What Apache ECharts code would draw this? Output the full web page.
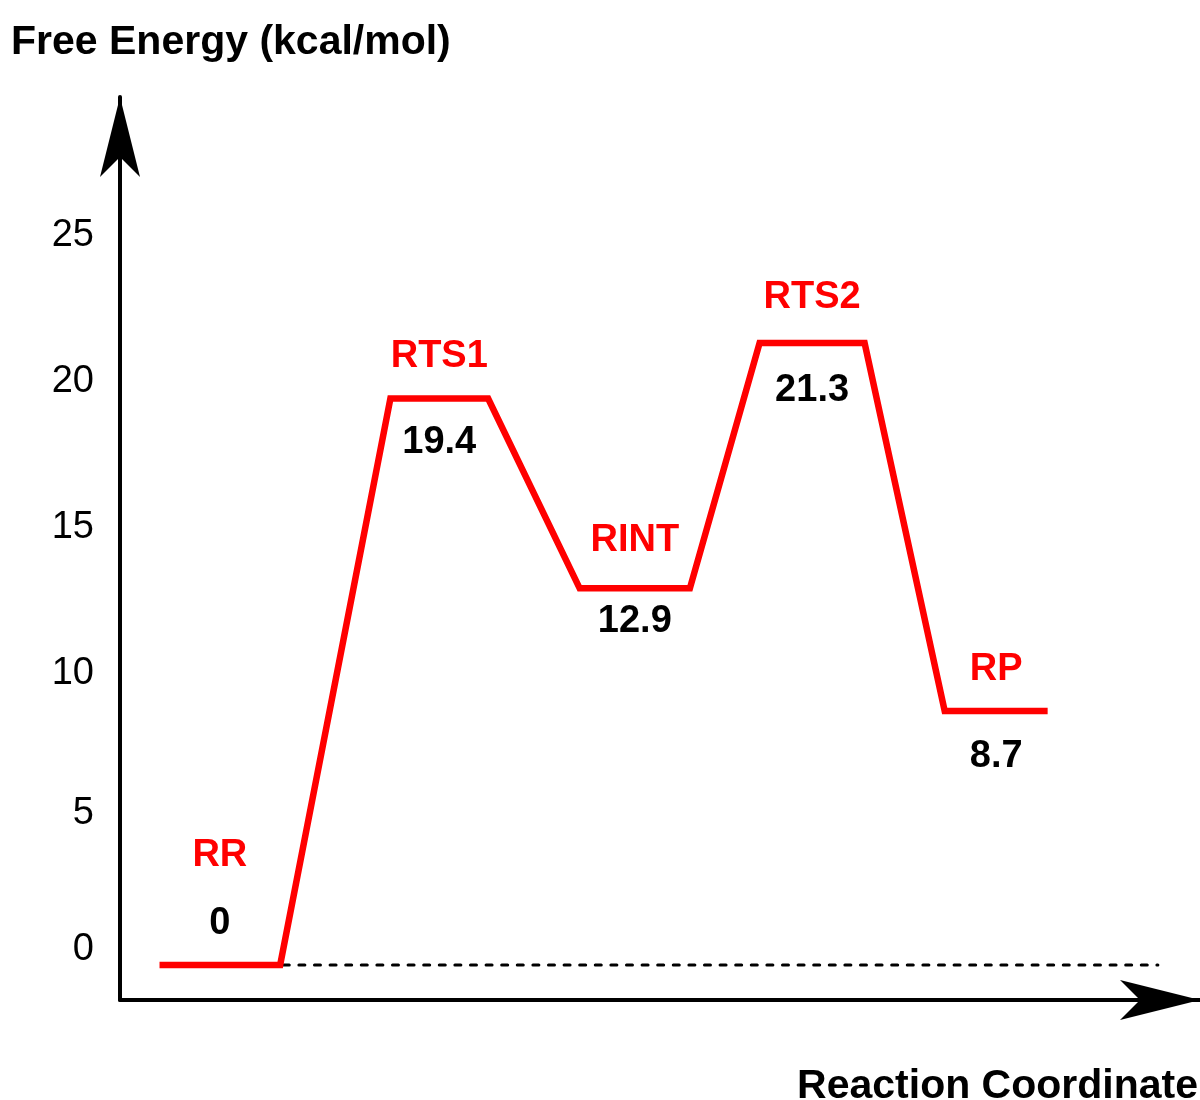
<!DOCTYPE html>
<html>
<head>
<meta charset="utf-8">
<title>Free Energy Profile</title>
<script src="https://cdn.jsdelivr.net/npm/echarts@6/dist/echarts.min.js"></script>
<style>
  html, body { margin: 0; padding: 0; background: #fff; }
  #chart { width: 1200px; height: 1100px; }
</style>
</head>
<body>
<div id="chart"></div>
<script>
// stationary points along the reaction path
const stages = ['RR', 'RTS1', 'RINT', 'RTS2', 'RP']
const energies = [0, 19.4, 12.9, 21.3, 8.7]
// reaction coordinate where each level starts / ends
const levelStart = [3.8, 26, 44.2, 61.5, 79.3]
const levelEnd = [15.4, 35.4, 54.8, 71.6, 89.2]
const yTicks = [0, 5, 10, 15, 20, 25]
const baselineRange = [8.2, 99.8]

const FONT = "'Liberation Sans', Arial, Helvetica, sans-serif"
const RED = '#ff0000'

// label offsets (name above, value below), RR is drawn with both above
const nameDy = [-109, -42, -48, -46, -41]
const valueDy = [-41, 44, 33, 47, 46]

const profile = []
stages.forEach((s, i) => {
  profile.push([levelStart[i], energies[i]])
  profile.push([levelEnd[i], energies[i]])
})

const mids = stages.map((s, i) => (levelStart[i] + levelEnd[i]) / 2)

const chart = echarts.init(document.getElementById('chart'))

chart.setOption({
  animation: false,
  backgroundColor: '#fff',
  title: [
    {
      text: 'Free Energy (kcal/mol)',
      left: 11, top: 22, padding: 0,
      textStyle: { fontFamily: FONT, fontSize: 41, fontWeight: 'bold', color: '#000' }
    },
    {
      text: 'Reaction Coordinate',
      right: 2, top: 1066, padding: 0,
      textStyle: { fontFamily: FONT, fontSize: 41, fontWeight: 'bold', color: '#000' }
    }
  ],
  grid: { left: 120, right: 0, top: 97, bottom: 100, containLabel: false },
  xAxis: {
    type: 'value',
    min: 0,
    max: 103.85,
    axisLine: {
      onZero: false,
      symbol: ['none', 'arrow'],
      symbolSize: [30, 80],
      lineStyle: { color: '#000', width: 4 }
    },
    axisTick: { show: false },
    axisLabel: { show: false },
    splitLine: { show: false }
  },
  yAxis: {
    type: 'value',
    min: -1.2,
    max: 29.73,
    axisLine: {
      show: true,
      onZero: false,
      symbol: ['none', 'arrow'],
      symbolSize: [30, 80],
      lineStyle: { color: '#000', width: 4 }
    },
    axisTick: { show: false },
    splitLine: { show: false },
    axisLabel: {
      customValues: yTicks,
      margin: 26,
      fontFamily: FONT,
      fontSize: 38,
      color: '#000',
      formatter: v => v === 0 ? '{lo|0}' : (v === 5 ? '{mid|5}' : String(v)),
      rich: {
        lo: { fontFamily: FONT, fontSize: 38, color: '#000', padding: [0, 0, 30, 0] },
        mid: { fontFamily: FONT, fontSize: 38, color: '#000', padding: [0, 0, 10, 0] }
      }
    }
  },
  series: [
    {
      type: 'line',
      data: baselineRange.map(x => [x, 0]),
      symbol: 'none',
      z: 1,
      lineStyle: { color: '#000', width: 3, type: [6, 9.6], cap: 'round' }
    },
    {
      type: 'line',
      data: profile,
      symbol: 'none',
      z: 3,
      lineStyle: { color: RED, width: 6.5, join: 'miter' }
    },
    {
      type: 'scatter',
      symbolSize: 1,
      itemStyle: { color: 'transparent', opacity: 1 },
      z: 4,
      data: stages.map((s, i) => ({
        value: [mids[i], energies[i]],
        name: s,
        label: { offset: [0, nameDy[i]] }
      })),
      label: {
        show: true,
        position: 'inside',
        formatter: p => p.name,
        fontFamily: FONT,
        fontSize: 38,
        fontWeight: 'bold',
        color: RED,
        opacity: 1
      }
    },
    {
      type: 'scatter',
      symbolSize: 1,
      itemStyle: { color: 'transparent', opacity: 1 },
      z: 4,
      data: energies.map((e, i) => ({
        value: [mids[i], e],
        label: { offset: [0, valueDy[i]] }
      })),
      label: {
        show: true,
        position: 'inside',
        formatter: p => String(p.value[1]),
        fontFamily: FONT,
        fontSize: 38,
        fontWeight: 'bold',
        color: '#000',
        opacity: 1
      }
    }
  ]
})
</script>
</body>
</html>
